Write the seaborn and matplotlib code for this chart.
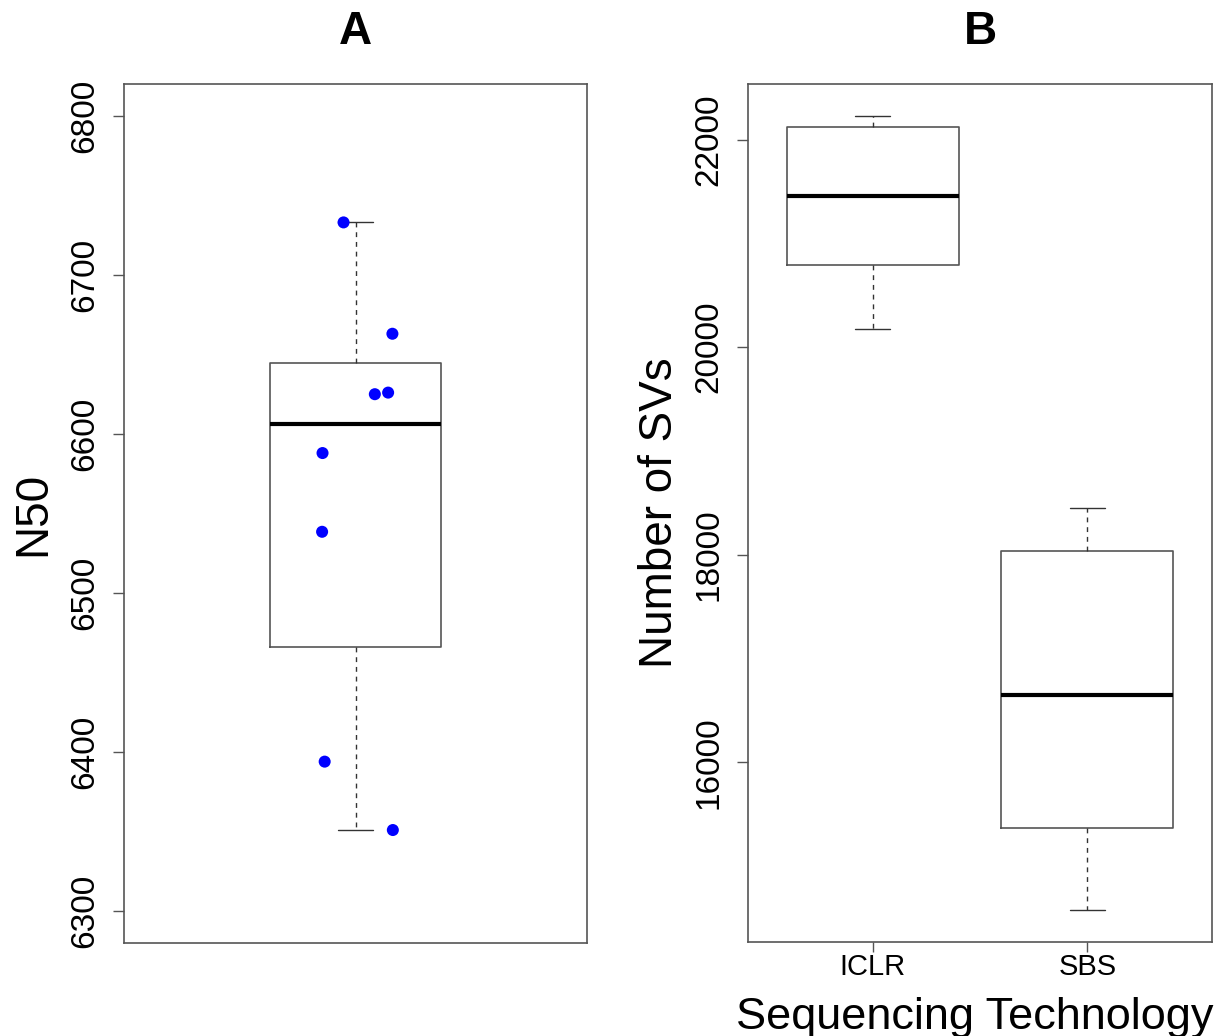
import numpy as np
import matplotlib
matplotlib.use('Agg')
import matplotlib.pyplot as plt
import seaborn as sns

# Panel A: N50 per sample (points) + jitter offsets
n50_values = [6733, 6663, 6625, 6626, 6588, 6538.5, 6394, 6351]
n50_jitter = [-0.028, 0.086, 0.045, 0.076, -0.077, -0.078, -0.072, 0.087]

# Panel B: box summaries (lower whisker, Q1, median, Q3, upper whisker)
tech_labels = ['ICLR', 'SBS']
sv_low = [20174, 14573]
sv_q1 = [20788, 15365]
sv_med = [21460, 16652]
sv_q3 = [22119, 18034]
sv_high = [22231, 18447]

sns.set_theme(style='white', rc={'text.color': 'black', 'axes.labelcolor': 'black',
                                 'xtick.color': 'black', 'ytick.color': 'black'})
plt.rcParams['font.family'] = ['Liberation Sans', 'DejaVu Sans']

BOX_COL = '#555555'
WHISK_COL = '#333333'


def tukey_stats(vals):
    # R boxplot hinges (fivenum)
    v = np.sort(np.asarray(vals, dtype=float))
    n = len(v)
    half = (n + 1) // 2
    lower, upper = v[:half], v[n - half:]
    return dict(whislo=v[0], q1=np.median(lower), med=np.median(v),
                q3=np.median(upper), whishi=v[-1], fliers=[])


def draw_boxes(ax, stats, positions, width, capw):
    ax.bxp(stats, positions=positions, widths=width, capwidths=capw,
           showfliers=False, manage_ticks=False,
           boxprops=dict(color=BOX_COL, lw=1.2),
           whiskerprops=dict(color=WHISK_COL, lw=1.0, linestyle=(0, (3.5, 3.5))),
           capprops=dict(color=WHISK_COL, lw=1.0),
           medianprops=dict(color='black', lw=3.0))


def style_axes(ax):
    for sp in ax.spines.values():
        sp.set_visible(True)
        sp.set_color(BOX_COL)
        sp.set_linewidth(1.2)
    ax.tick_params(axis='y', left=True, length=8, width=1, color=BOX_COL,
                   labelsize=24, labelrotation=90, pad=9, labelcolor='black')
    for lab in ax.get_yticklabels():
        lab.set_va('center')
    ax.grid(False)


fig = plt.figure(figsize=(12.22, 10.36), dpi=100)
axA = fig.add_axes([0.1015, 0.0898, 0.3789, 0.8291])
axB = fig.add_axes([0.6121, 0.0907, 0.3797, 0.8282])

# --- Panel A ---
draw_boxes(axA, [tukey_stats(n50_values)], [1], 0.40, 0.082)
sns.scatterplot(x=1 + np.array(n50_jitter), y=n50_values, ax=axA,
                color='#0000ff', s=75, edgecolor='none', zorder=5)
axA.set_xlim(0.46, 1.54)
axA.set_ylim(6280, 6820)
axA.set_yticks([6300, 6400, 6500, 6600, 6700, 6800])
axA.set_xticks([])
style_axes(axA)
axA.set_ylabel('N50', fontsize=33)
axA.yaxis.label.set_va('center')
axA.yaxis.set_label_coords(-0.197, 0.5)

# --- Panel B ---
statsB = [dict(whislo=lo, q1=a, med=m, q3=b, whishi=hi, fliers=[])
          for lo, a, m, b, hi in zip(sv_low, sv_q1, sv_med, sv_q3, sv_high)]
draw_boxes(axB, statsB, [1, 2], 0.8, 0.163)
axB.set_xlim(0.42, 2.58)
axB.set_ylim(14267, 22537)
axB.set_yticks([16000, 18000, 20000, 22000])
axB.set_xticks([1, 2])
axB.set_xticklabels(tech_labels)
style_axes(axB)
axB.tick_params(axis='x', bottom=True, length=7, width=1, color=BOX_COL,
                labelsize=21, pad=1, labelcolor='black')
axB.set_ylabel('Number of SVs', fontsize=33)
axB.yaxis.label.set_va('center')
axB.yaxis.set_label_coords(-0.19, 0.5)
axB.set_xlabel('Sequencing Technology', fontsize=32.5)
axB.xaxis.label.set_va('center')
axB.xaxis.set_label_coords(0.488, -0.088)

fig.text(355 / 1222, 1 - 32 / 1036, 'A', fontsize=33, fontweight='bold',
         ha='center', va='center')
fig.text(980 / 1222, 1 - 32 / 1036, 'B', fontsize=33, fontweight='bold',
         ha='center', va='center')

fig.savefig('out.png', dpi=100, facecolor='white')
